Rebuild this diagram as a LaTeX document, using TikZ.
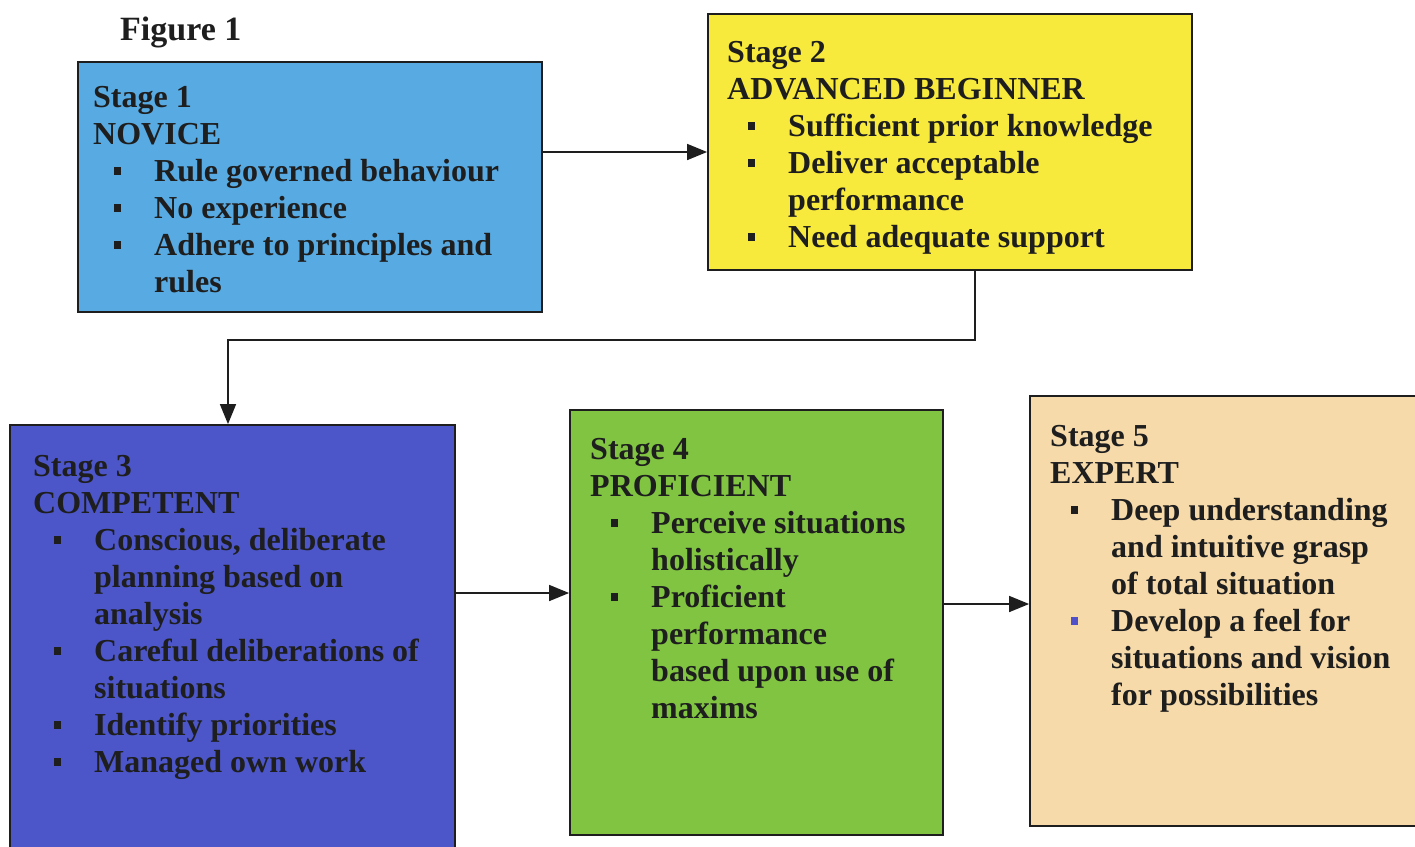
\documentclass[tikz,border=0pt]{standalone}
\usepackage{fontspec}
\setmainfont{Liberation Serif}
\usetikzlibrary{arrows.meta}
\definecolor{colA}{RGB}{88,170,226}
\definecolor{colB}{RGB}{248,234,60}
\definecolor{colC}{RGB}{76,86,200}
\definecolor{colD}{RGB}{128,196,66}
\definecolor{colE}{RGB}{246,218,170}
\definecolor{inkc}{RGB}{30,30,30}
\definecolor{bulblue}{RGB}{80,80,200}
\newcommand{\bl}{\hspace*{21pt}\makebox[40pt][l]{\rule[6pt]{7pt}{8pt}}}
\newcommand{\blb}{\hspace*{21pt}\makebox[40pt][l]{\textcolor{bulblue}{\rule[6pt]{7pt}{8pt}}}}
\newcommand{\ind}{\hspace*{61pt}}
\begin{document}
\begin{tikzpicture}[x=1pt,y=-1pt,
  box/.style={draw=inkc, line width=1.8pt, rectangle, inner sep=0pt},
  txt/.style={anchor=north west, inner sep=0pt, align=left, font=\fontsize{32}{37}\selectfont\bfseries, text=inkc},
  arr/.style={draw=inkc, line width=1.6pt, -{Triangle[length=20pt,width=16pt]}}]
\useasboundingbox (0,0) rectangle (1415,846);
\fill[white] (0,0) rectangle (1415,846);

\node[anchor=base west, inner sep=0pt, font=\fontsize{34}{40}\selectfont\bfseries, text=inkc] (fig) at (120,40) {Figure 1};

\node[box, fill=colA, minimum width=464pt, minimum height=250pt] (s1) at (310,187) {};
\node[box, fill=colB, minimum width=484pt, minimum height=256pt] (s2) at (950,142) {};
\node[box, fill=colC, minimum width=445pt, minimum height=425pt] (s3) at (232.5,637.5) {};
\node[box, fill=colD, minimum width=373pt, minimum height=425pt] (s4) at (756.5,622.5) {};
\node[box, fill=colE, minimum width=390pt, minimum height=430pt] (s5) at (1225,611) {};

\node[txt] (t1) at (93,81) {\strut Stage 1\\NOVICE\\\bl Rule governed behaviour\\\bl No experience\\\bl Adhere to principles and\\\ind rules};
\node[txt] (t2) at (727,36) {\strut Stage 2\\ADVANCED BEGINNER\\\bl Sufficient prior knowledge\\\bl Deliver acceptable\\\ind performance\\\bl Need adequate support};
\node[txt] (t3) at (33,450) {\strut Stage 3\\COMPETENT\\\bl Conscious, deliberate\\\ind planning based on\\\ind analysis\\\bl Careful deliberations of\\\ind situations\\\bl Identify priorities\\\bl Managed own work};
\node[txt] (t4) at (590,433) {\strut Stage 4\\PROFICIENT\\\bl Perceive situations\\\ind holistically\\\bl Proficient\\\ind performance\\\ind based upon use of\\\ind maxims};
\node[txt] (t5) at (1050,420) {\strut Stage 5\\EXPERT\\\bl Deep understanding\\\ind and intuitive grasp\\\ind of total situation\\\blb Develop a feel for\\\ind situations and vision\\\ind for possibilities};

\coordinate (a1) at (s1.east |- 0,152);
\draw[arr] (a1) -- (a1 -| s2.west);
\coordinate (b1) at (s2.south -| 975,0);
\coordinate (b2) at (228,340);
\draw[arr] (b1) |- (b2) -- (b2 |- s3.north);
\coordinate (c1) at (s3.east |- 0,593);
\draw[arr] (c1) -- (c1 -| s4.west);
\coordinate (d1) at (s4.east |- 0,604);
\draw[arr] (d1) -- (d1 -| s5.west);
\end{tikzpicture}
\end{document}
